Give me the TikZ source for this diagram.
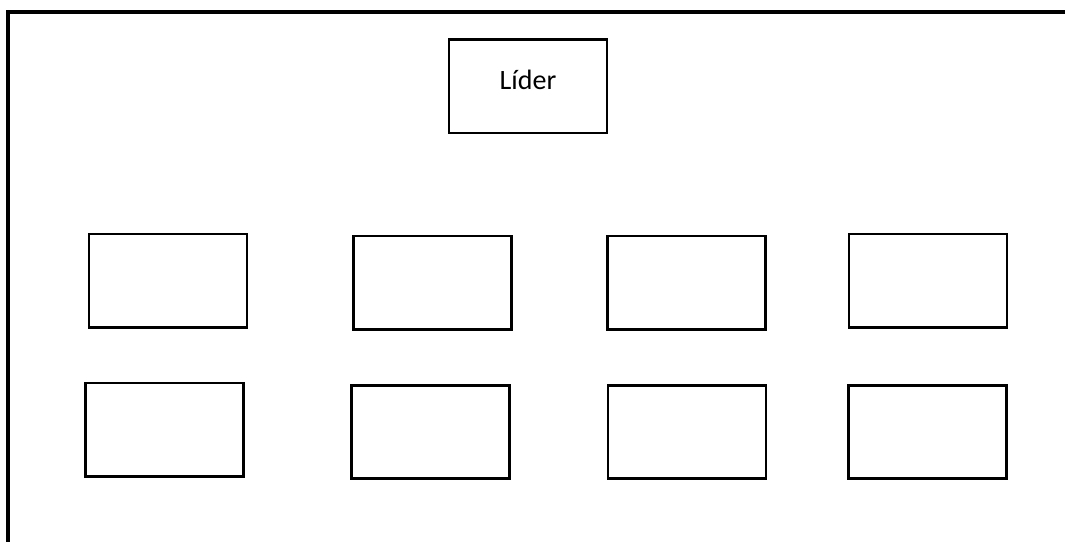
\documentclass[tikz,border=0pt]{standalone}
\usepackage{fontspec}
\setmainfont{Carlito}
\begin{document}
\begin{tikzpicture}[x=0.75pt,y=-0.75pt,
    caja/.style={draw,line width=2pt,rectangle,inner sep=0pt,
        minimum width=118.5pt,minimum height=70pt}]
    \useasboundingbox (0,0) rectangle (1065,542);
    \draw[line width=2.4pt] (1065,12) -- (8,12) -- (8,542);

    \node[caja] (lider) at (528,86.5) {};
    \node[font=\fontsize{21}{25}\selectfont] (lidertxt) at ([yshift=5pt]lider.center) {Líder};

    \node[caja] (a1) at (168,280.5) {};
    \node[caja] (a2) at (432.5,282.5) {};
    \node[caja] (a3) at (686.5,282.5) {};
    \node[caja] (a4) at (928,280.5) {};

    \node[caja] (b1) at (164.5,429.5) {};
    \node[caja] (b2) at (430.5,432) {};
    \node[caja] (b3) at (687,432) {};
    \node[caja] (b4) at (927.5,432) {};
\end{tikzpicture}
\end{document}
